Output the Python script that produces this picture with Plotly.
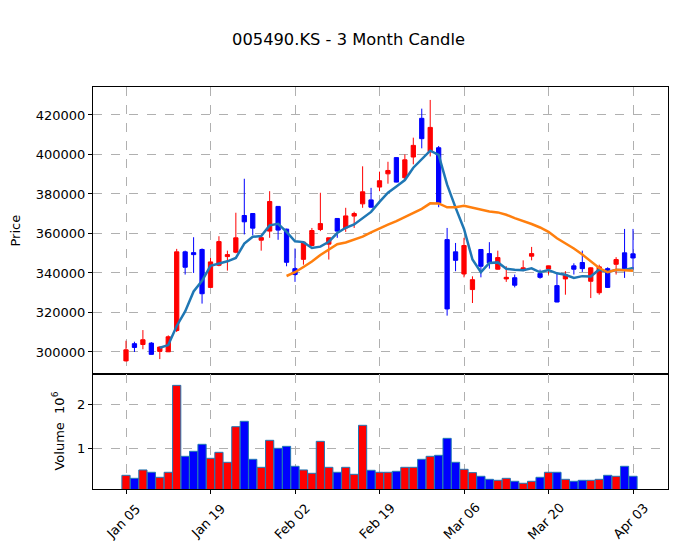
import plotly.graph_objects as go
import pandas as pd

# ---- data ----
tick_labels = ["Jan 05", "Jan 19", "Feb 02", "Feb 19", "Mar 06", "Mar 20", "Apr 03"]
tick_index = [0, 10, 20, 30, 40, 50, 60]

opens = [295500, 304200, 303800, 304500, 300300, 300100, 310900, 350700, 350300, 351900,
         332700, 343900, 348300, 350500, 369100, 370100, 356600, 361200, 373700, 362200,
         342200, 346900, 353900, 362000, 354600, 367600, 362800, 368800, 375000, 377000,
         383500, 390200, 398400, 388200, 398700, 418300, 401400, 403400, 356900, 350700,
         339500, 331600, 351900, 349800, 341900, 337000, 337600, 341400, 348500, 339700,
         342000, 333600, 337000, 343600, 345300, 335800, 330000, 342200, 344400, 350200,
         349700]
highs = [305700, 305200, 311100, 305000, 302800, 308400, 352200, 351300, 358100, 352400,
         347600, 358600, 351300, 370500, 387700, 370300, 359100, 381400, 373800, 362400,
         352400, 355700, 362800, 380600, 357900, 367700, 373000, 371000, 394000, 383100,
         391300, 396300, 398500, 400000, 408500, 423200, 427600, 404300, 362800, 355200,
         357800, 338300, 352000, 355600, 351300, 343400, 339200, 346400, 353200, 341700,
         343700, 339500, 340900, 344900, 351300, 342900, 344200, 342900, 348000, 362300,
         362300]
lows = [295200, 300000, 301400, 298700, 296400, 300000, 310100, 339200, 340000, 324500,
        332400, 343400, 341200, 350000, 359500, 359100, 351300, 357800, 356800, 343400,
        335500, 344200, 353500, 361200, 346800, 357800, 360800, 362800, 373000, 373000,
        381400, 385200, 385900, 386900, 395000, 403100, 399000, 373300, 318400, 340900,
        337800, 324800, 337800, 342200, 341700, 335500, 332700, 340900, 346400, 337100,
        339200, 325200, 329000, 339200, 340500, 327300, 329000, 332400, 339200, 337500,
        341700]
closes = [301100, 302300, 306200, 298800, 302500, 307700, 350700, 342900, 349300, 329500,
          345600, 355900, 349300, 357800, 365900, 362700, 357900, 376200, 361700, 345400,
          339200, 355600, 361500, 365000, 357800, 361200, 368900, 370100, 381100, 373300,
          386700, 391900, 386000, 397300, 404600, 408000, 413700, 375500, 321800, 346400,
          353900, 336600, 343400, 345100, 347800, 337800, 333800, 342600, 349800, 337800,
          343600, 325300, 339000, 341900, 342200, 342600, 343100, 332700, 346800, 342200,
          347600]
volumes = [386000, 318000, 508000, 455000, 341000, 455000, 2432000, 818000, 932000, 1091000,
           773000, 909000, 682000, 1492000, 1614000, 750000, 568000, 1182000, 1000000, 1045000,
           591000, 508000, 432000, 1159000, 568000, 455000, 568000, 409000, 1523000, 500000,
           455000, 455000, 477000, 568000, 568000, 750000, 818000, 841000, 1227000, 682000,
           523000, 447000, 364000, 295000, 273000, 318000, 250000, 205000, 250000, 341000,
           455000, 455000, 295000, 250000, 273000, 273000, 295000, 386000, 364000, 591000,
           364000]

UP = "#ff0000"
DOWN = "#0000ff"
FONT = "DejaVu Sans"

idx = list(range(len(closes)))
close_s = pd.Series(closes, dtype=float)
ma5 = close_s.rolling(5).mean()
ma20 = close_s.rolling(20).mean()
vol_colors = [UP if c >= o else DOWN for o, c in zip(opens, closes)]

fig = go.Figure()
fig.add_trace(go.Candlestick(
    x=idx, open=opens, high=highs, low=lows, close=closes,
    increasing=dict(line=dict(color=UP, width=1), fillcolor=UP),
    decreasing=dict(line=dict(color=DOWN, width=1), fillcolor=DOWN),
    whiskerwidth=0, showlegend=False, xaxis="x", yaxis="y"))
fig.add_trace(go.Scatter(x=idx, y=ma5, mode="lines", line=dict(color="#1f77b4", width=2.5),
                         showlegend=False, xaxis="x", yaxis="y"))
fig.add_trace(go.Scatter(x=idx, y=ma20, mode="lines", line=dict(color="#ff7f0e", width=2.5),
                         showlegend=False, xaxis="x", yaxis="y"))
fig.add_trace(go.Bar(x=idx, y=volumes, marker=dict(color=vol_colors, line=dict(color="#1f77b4", width=1)),
                     width=0.97, showlegend=False, xaxis="x2", yaxis="y2"))

xrange_ = [-3.905, 64.14]
grid = dict(showgrid=True, gridcolor="#b0b0b0", griddash="dash", gridwidth=1)
frame = dict(showline=True, mirror=True, linecolor="black", linewidth=1, zeroline=False)
tickfont = dict(family=FONT, size=13, color="black")

pmin, pmax = min(lows), max(highs)
prng = pmax - pmin
vmax = max(volumes)

annotations = [
    dict(text="Price", xref="paper", yref="paper", x=-(93 - 16) / 575, y=0.286 + (1 - 0.286) / 2,
         xanchor="center", yanchor="middle", textangle=-90, showarrow=False,
         font=dict(family=FONT, size=13, color="black")),
    dict(text="Volume  10<sup>6</sup>", xref="paper", yref="paper", x=-(93 - 58) / 575, y=0.143,
         xanchor="center", yanchor="middle", textangle=-90, showarrow=False,
         font=dict(family=FONT, size=13, color="black")),
]
for ti, tl in zip(tick_index, tick_labels):
    annotations.append(dict(text=tl, xref="x2", yref="paper", x=ti, y=-(521 - 489) / 402,
                            xshift=-3, xanchor="center", yanchor="middle", textangle=-45,
                            showarrow=False, font=dict(family=FONT, size=13, color="black")))

fig.update_layout(
    width=677, height=553,
    margin=dict(l=93, r=9, t=87, b=64),
    paper_bgcolor="white", plot_bgcolor="white",
    font=dict(family=FONT, size=13, color="black"),
    boxgap=0.28,
    title=dict(text="005490.KS - 3 Month Candle", xref="container", yref="container",
               x=348.5 / 677, y=1 - 39 / 553, xanchor="center", yanchor="middle",
               font=dict(family=FONT, size=16.3, color="black")),
    xaxis=dict(domain=[0, 1], anchor="y", range=xrange_, rangeslider=dict(visible=False),
               tickvals=tick_index, showticklabels=False, ticks="", **grid, **frame),
    yaxis=dict(domain=[0.286, 1], anchor="x", range=[pmin - 0.048 * prng, pmax + 0.0495 * prng],
               tickvals=[300000, 320000, 340000, 360000, 380000, 400000, 420000],
               ticktext=[str(v) for v in [300000, 320000, 340000, 360000, 380000, 400000, 420000]],
               ticks="outside", ticklen=4, tickcolor="black", tickfont=tickfont, **grid, **frame),
    xaxis2=dict(domain=[0, 1], anchor="y2", range=xrange_, tickvals=tick_index, showticklabels=False,
                ticks="outside", ticklen=4, tickcolor="black", **grid, **frame),
    yaxis2=dict(domain=[0, 0.286], anchor="x2", range=[0.075e6, 1.106 * vmax],
                tickvals=[1e6, 2e6], ticktext=["1", "2"],
                ticks="outside", ticklen=4, tickcolor="black", tickfont=tickfont, **grid, **frame),
    annotations=annotations,
)

fig.write_html("out.html")
